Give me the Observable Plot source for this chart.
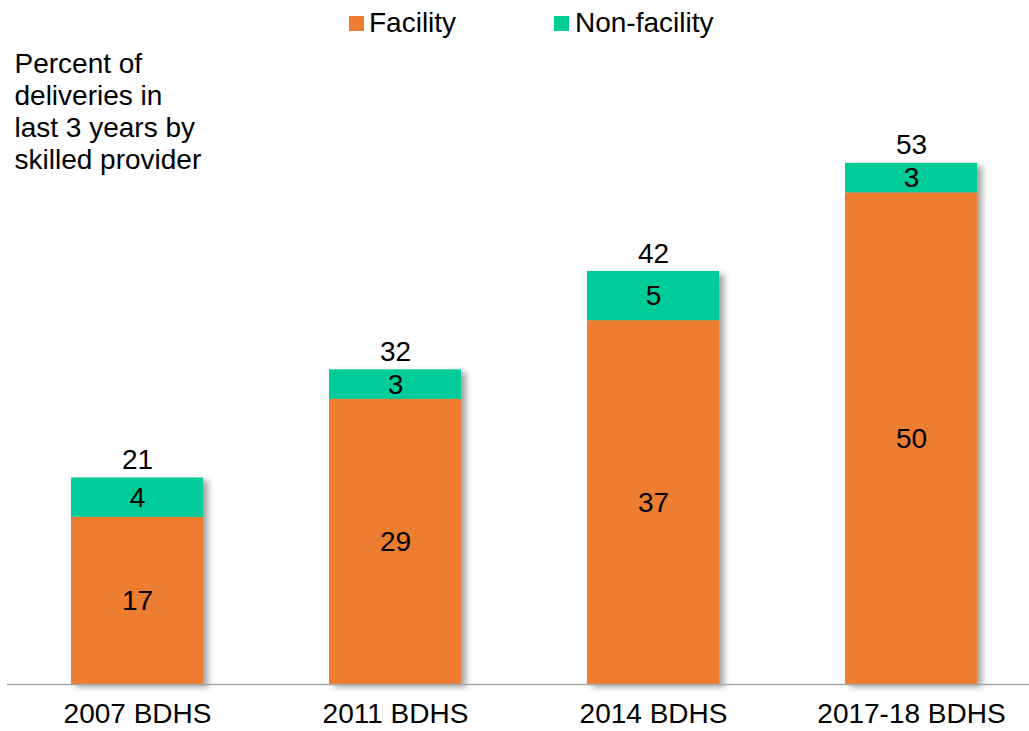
<!DOCTYPE html>
<html>
<head>
<meta charset="utf-8">
<script src="https://cdn.jsdelivr.net/npm/d3@7"></script>
<script src="https://cdn.jsdelivr.net/npm/@observablehq/plot@0.6"></script>
<style>
  html, body { margin: 0; padding: 0; background: #fff; }
  body { width: 1029px; height: 731px; overflow: hidden; font-family: "Liberation Sans", Arial, sans-serif; }
  #legend { position: relative; height: 45px; width: 1029px; }
  #legend .sw { position: absolute; width: 15px; height: 15px; top: 16px; }
  #legend .lb { position: absolute; top: 9px; font-size: 28px; line-height: 28px; color: #000; white-space: nowrap; }
</style>
</head>
<body>
<div id="legend"></div>
<div id="chart"></div>
<script>
const surveys = ["2007 BDHS", "2011 BDHS", "2014 BDHS", "2017-18 BDHS"];
const facility = [17, 29, 37, 50];
const nonFacility = [4, 3, 5, 3];
const totals = [21, 32, 42, 53];
const seriesNames = ["Facility", "Non-facility"];
const seriesColors = ["#ED7D31", "#00CC99"];
const yLabel = "Percent of\ndeliveries in\nlast 3 years by\nskilled provider";

// legend
const legend = document.getElementById("legend");
const legendPos = [{sw: 349, lb: 369}, {sw: 554, lb: 575}];
seriesNames.forEach((name, i) => {
  const sw = document.createElement("div");
  sw.className = "sw";
  sw.style.left = legendPos[i].sw + "px";
  sw.style.background = seriesColors[i];
  legend.appendChild(sw);
  const lb = document.createElement("div");
  lb.className = "lb";
  lb.style.left = legendPos[i].lb + "px";
  lb.textContent = name;
  legend.appendChild(lb);
});

const table = [];
surveys.forEach((s, i) => {
  table.push({survey: s, type: seriesNames[0], value: facility[i]});
  table.push({survey: s, type: seriesNames[1], value: nonFacility[i]});
});
const totalTable = surveys.map((s, i) => ({survey: s, total: totals[i]}));

const chart = Plot.plot({
  width: 1029,
  height: 686,
  marginLeft: 7,
  marginRight: 0,
  marginTop: 49,
  marginBottom: 47,
  style: {fontFamily: "'Liberation Sans', Arial, sans-serif", fontSize: "28px", color: "#000", background: "#fff"},
  x: {domain: surveys, range: [70, 977.5], paddingInner: 0.489, paddingOuter: 0, label: null, tickSize: 0, tickPadding: 19},
  y: {domain: [0, 60], axis: null},
  color: {domain: seriesNames, range: seriesColors},
  marks: [
    Plot.barY(totalTable, {x: "survey", y: "total", fill: "#555", fillOpacity: 0.55, dx: 5, dy: 3, className: "shadow"}),
    Plot.barY(table, {x: "survey", y: "value", fill: "type", order: seriesNames}),
    Plot.text(table, Plot.stackY({x: "survey", y: "value", z: "type", order: seriesNames, text: d => String(d.value), fontSize: 28, fill: "#000"})),
    Plot.text(totalTable, {x: "survey", y: "total", text: d => String(d.total), fontSize: 28, fill: "#000", lineAnchor: "bottom", dy: -9}),
    Plot.ruleY([0], {stroke: "#a6a6a6", strokeWidth: 1.5}),
    Plot.text([yLabel], {frameAnchor: "top-left", textAnchor: "start", lineAnchor: "top", lineHeight: 1.143, fontSize: 28, fill: "#000", dx: 7, dy: -44.7})
  ]
});
document.getElementById("chart").appendChild(chart);
const sh = chart.querySelector(".shadow");
if (sh) sh.style.filter = "blur(3px)";
</script>
</body>
</html>
